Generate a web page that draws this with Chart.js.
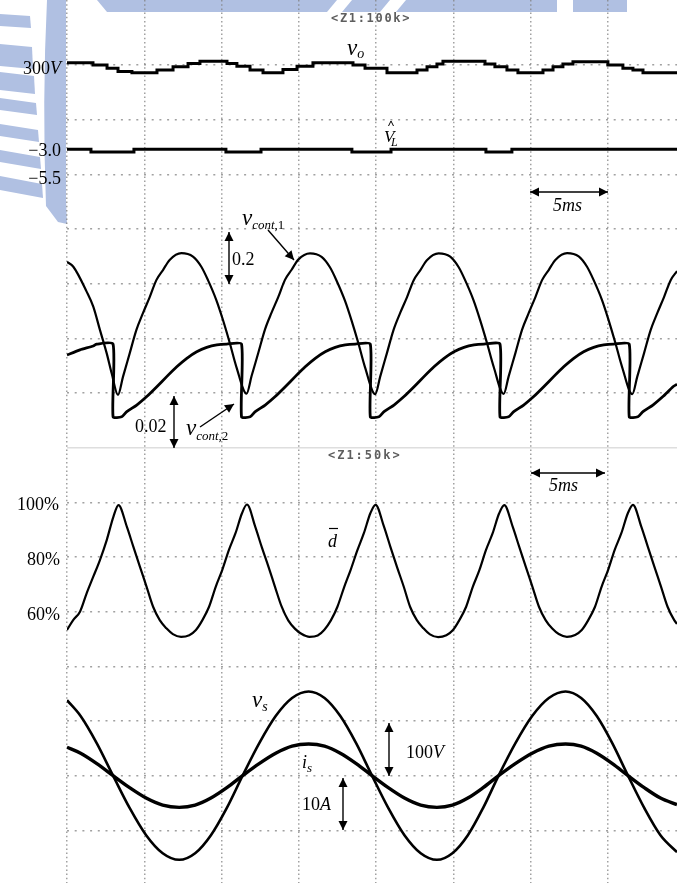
<!DOCTYPE html>
<html>
<head>
<meta charset="utf-8">
<script src="https://cdn.jsdelivr.net/npm/chart.js@4.4.1/dist/chart.umd.min.js"></script>
<style>
  html, body { margin: 0; padding: 0; background: #fff; overflow: hidden; }
  canvas { display: block; }
</style>
</head>
<body>
<canvas id="scope" width="677" height="883"></canvas>
<script>
// ---- time base: 5 ms per division, 0 ms = left edge of the screen ----
const timeMax = 39.46;
const timeTicks = [0, 5, 10, 15, 20, 25, 30, 35];
// screen rows (divisions), 0 = top of the upper screen, 16 = bottom of the lower one
const gridRows = [0, 1, 2, 3, 4, 5, 6, 7, 8, 9, 10, 11, 12, 13, 14, 15];
const rowTop = -0.19;
const rowBottom = 15.964;

// v_o (V), staircase
const voTime = [0, 1.68, 2.59, 3.30, 4.20, 5.82, 6.86, 7.83, 8.60, 10.35, 10.99, 11.84, 12.68, 13.97, 14.88, 15.91,
  18.50, 19.28, 20.70, 22.64, 23.29, 23.93, 24.32, 27.04, 27.68, 28.46, 29.17, 30.79, 31.44, 32.08, 32.73,
  34.99, 35.96, 36.61, 37.26, 39.46];
const voValues = [300.4, 300.0, 299.4, 298.8, 298.6, 299.1, 299.7, 300.3, 300.7, 300.3, 299.8, 299.1, 298.6, 299.2, 299.8, 300.4,
  300.0, 299.4, 298.6, 299.1, 299.7, 300.2, 300.7, 300.2, 299.7, 299.1, 298.6, 299.1, 299.7, 300.2, 300.6,
  300.0, 299.4, 299.1, 298.6, 298.6];

// V_L hat, staircase
const vlTime = [0, 1.55, 4.33, 10.28, 12.55, 18.43, 20.96, 27.10, 28.78, 39.46];
const vlValues = [-3.2, -3.45, -3.2, -3.45, -3.2, -3.45, -3.2, -3.45, -3.2, -3.2];

// v_cont,1
const vc1Time = [0, 0.41, 1.27, 1.70, 2.13, 2.57, 2.89,
  3.30, 3.62, 4.06, 4.49, 4.92, 5.35, 5.78, 6.21, 6.64, 7.40, 8.15, 8.69, 9.12, 9.66, 10.09, 10.53, 10.96,
  11.62, 11.94, 12.38, 12.81, 13.24, 13.67, 14.10, 14.53, 14.96, 15.72, 16.47, 17.01, 17.44, 17.98, 18.41, 18.85, 19.28,
  19.94, 20.26, 20.70, 21.13, 21.56, 21.99, 22.42, 22.85, 23.28, 24.04, 24.79, 25.33, 25.76, 26.30, 26.73, 27.17, 27.60,
  28.25, 28.57, 29.01, 29.44, 29.87, 30.30, 30.73, 31.16, 31.59, 32.35, 33.10, 33.64, 34.07, 34.61, 35.04, 35.48, 35.91,
  36.57, 36.89, 37.33, 37.76, 38.19, 38.62, 39.05, 39.46];
const vc1Values = [0.480, 0.462, 0.371, 0.316, 0.231, 0.145, 0.072,
  -0.007, 0.059, 0.146, 0.231, 0.293, 0.351, 0.413, 0.450, 0.487, 0.512, 0.499, 0.462, 0.413, 0.340, 0.267, 0.183, 0.095,
  -0.002, 0.062, 0.148, 0.233, 0.295, 0.352, 0.414, 0.451, 0.488, 0.511, 0.498, 0.460, 0.411, 0.338, 0.265, 0.182, 0.094,
  -0.004, 0.060, 0.147, 0.232, 0.294, 0.350, 0.412, 0.449, 0.486, 0.511, 0.499, 0.461, 0.412, 0.339, 0.266, 0.183, 0.096,
  -0.003, 0.061, 0.147, 0.232, 0.293, 0.351, 0.413, 0.450, 0.487, 0.512, 0.500, 0.462, 0.413, 0.340, 0.266, 0.182, 0.095,
  -0.004, 0.060, 0.146, 0.231, 0.293, 0.351, 0.413, 0.446];

// v_cont,2 (vertical resets at the drop instants)
const vc2Time = [0, 0.84, 1.70, 1.92, 2.98,
  2.98, 3.54, 3.87, 4.51, 5.16, 5.81, 6.45, 7.10, 7.75, 8.39, 9.04, 9.69, 10.33, 11.29,
  11.29, 11.85, 12.18, 12.82, 13.47, 14.12, 14.76, 15.41, 16.06, 16.70, 17.35, 18.00, 18.64, 19.62,
  19.62, 20.18, 20.51, 21.15, 21.80, 22.45, 23.09, 23.74, 24.39, 25.03, 25.68, 26.33, 26.97, 28.01,
  28.01, 28.57, 28.90, 29.54, 30.19, 30.84, 31.48, 32.13, 32.78, 33.42, 34.07, 34.72, 35.36, 36.37,
  36.37, 36.93, 37.26, 37.90, 38.55, 39.20, 39.46];
const vc2Values = [0.0339, 0.0358, 0.0372, 0.0379, 0.0379,
  0.0113, 0.0113, 0.0132, 0.0156, 0.0187, 0.0223, 0.0260, 0.0296, 0.0327, 0.0351, 0.0367, 0.0376, 0.0379, 0.0379,
  0.0113, 0.0113, 0.0132, 0.0156, 0.0187, 0.0223, 0.0260, 0.0296, 0.0327, 0.0351, 0.0367, 0.0376, 0.0379, 0.0379,
  0.0113, 0.0113, 0.0132, 0.0156, 0.0187, 0.0223, 0.0260, 0.0296, 0.0327, 0.0351, 0.0367, 0.0376, 0.0379, 0.0379,
  0.0113, 0.0113, 0.0132, 0.0156, 0.0187, 0.0223, 0.0260, 0.0296, 0.0327, 0.0351, 0.0367, 0.0376, 0.0379, 0.0379,
  0.0113, 0.0113, 0.0132, 0.0156, 0.0187, 0.0223, 0.0232];

// duty ratio d-bar (%)
const dutyTime = [0, 0.41, 0.84, 1.27, 1.70, 2.13, 2.57, 3.00,
  3.33, 3.87, 4.29, 4.72, 5.15, 5.57, 6.00, 6.43, 6.85, 7.38, 7.91, 8.34, 8.76, 9.19, 9.62, 10.04, 10.47, 10.90, 11.32,
  11.64, 12.18, 12.60, 13.03, 13.46, 13.88, 14.31, 14.74, 15.16, 15.69, 16.22, 16.65, 17.07, 17.50, 17.93, 18.35, 18.78, 19.21, 19.63,
  19.96, 20.50, 20.92, 21.35, 21.78, 22.20, 22.63, 23.06, 23.48, 24.01, 24.54, 24.97, 25.39, 25.82, 26.25, 26.67, 27.10, 27.53, 27.95,
  28.29, 28.83, 29.25, 29.68, 30.11, 30.53, 30.96, 31.39, 31.81, 32.34, 32.87, 33.30, 33.72, 34.15, 34.58, 35.00, 35.43, 35.86, 36.28,
  36.61, 37.15, 37.57, 38.00, 38.43, 38.85, 39.28, 39.46];
const dutyValues = [53.3, 57.0, 60.0, 66.7, 72.8, 78.9, 86.2, 94.7,
  99.0, 91.1, 83.8, 76.4, 69.1, 61.8, 56.9, 53.9, 51.8, 50.8, 51.4, 53.3, 56.9, 61.8, 69.1, 75.2, 82.5, 88.7, 96.0,
  99.2, 91.0, 83.6, 76.5, 69.0, 61.9, 56.8, 53.8, 51.9, 50.8, 51.3, 53.4, 56.8, 61.9, 69.0, 75.3, 82.4, 88.8, 96.1,
  99.1, 91.2, 83.7, 76.3, 69.2, 61.7, 56.9, 53.9, 51.7, 50.7, 51.4, 53.3, 57.0, 61.8, 69.1, 75.1, 82.5, 88.6, 95.9,
  99.0, 91.1, 83.8, 76.4, 69.1, 61.8, 56.9, 53.8, 51.8, 50.8, 51.5, 53.3, 56.9, 61.7, 69.1, 75.2, 82.6, 88.7, 96.0,
  99.1, 91.1, 83.8, 76.4, 69.1, 61.8, 56.9, 55.5];

// line voltage v_s (V) and line current i_s (A)
const acTime = [0, 0.88, 1.93, 2.98, 4.05, 5.12, 6.19, 7.26, 8.29, 9.31, 10.34, 11.36, 12.43, 13.50, 14.56, 15.63,
  16.66, 17.68, 18.71, 19.73, 20.78, 21.83, 22.88, 23.93, 24.93, 25.93, 26.92, 27.92, 29.00, 30.09, 31.17, 32.25,
  33.26, 34.27, 35.28, 36.29, 37.34, 38.39, 39.46];
const vsValues = [138, 109, 59, 0, -59, -109, -142, -154, -142, -109, -59, 0, 59, 109, 142, 154,
  142, 109, 59, 0, -59, -109, -142, -154, -142, -109, -59, 0, 59, 109, 142, 154,
  142, 109, 59, 0, -59, -109, -140];
const isValues = [5.2, 4.1, 2.2, 0, -2.2, -4.1, -5.4, -5.8, -5.4, -4.1, -2.2, 0, 2.2, 4.1, 5.4, 5.8,
  5.4, 4.1, 2.2, 0, -2.2, -4.1, -5.4, -5.8, -5.4, -4.1, -2.2, 0, 2.2, 4.1, 5.4, 5.8,
  5.4, 4.1, 2.2, 0, -2.2, -4.1, -5.3];

// pair up x and y arrays
function pts(xs, ys) {
  return xs.map((x, i) => ({ x: x, y: ys[i] }));
}

// hidden value axis for one trace: "ref" sits on screen row "row", "perDiv" units per division
function traceAxis(ref, row, perDiv) {
  return {
    type: 'linear',
    display: false,
    min: ref - (rowBottom - row) * perDiv,
    max: ref + (row - rowTop) * perDiv
  };
}

function trace(data, axis, width, extra) {
  return Object.assign({
    data: data,
    yAxisID: axis,
    borderColor: '#000',
    borderWidth: width,
    pointRadius: 0,
    fill: false,
    cubicInterpolationMode: 'monotone'
  }, extra || {});
}

const serif = '"Liberation Serif", "Times New Roman", serif';

function textRuns(ctx, x, y, parts, align) {
  let w = 0;
  parts.forEach(p => { ctx.font = p[1]; w += ctx.measureText(p[0]).width; });
  let cx = align === 'right' ? x - w : x;
  parts.forEach(p => {
    ctx.font = p[1];
    ctx.fillText(p[0], cx, y + (p[2] || 0));
    cx += ctx.measureText(p[0]).width;
  });
}

function head(ctx, x1, y1, x2, y2) {
  const a = Math.atan2(y2 - y1, x2 - x1);
  const len = 9, half = 4.5;
  ctx.beginPath();
  ctx.moveTo(x2, y2);
  ctx.lineTo(x2 - len * Math.cos(a) + half * Math.sin(a), y2 - len * Math.sin(a) - half * Math.cos(a));
  ctx.lineTo(x2 - len * Math.cos(a) - half * Math.sin(a), y2 - len * Math.sin(a) + half * Math.cos(a));
  ctx.closePath();
  ctx.fill();
}

function arrow(ctx, x1, y1, x2, y2, both) {
  ctx.beginPath();
  ctx.moveTo(x1, y1);
  ctx.lineTo(x2, y2);
  ctx.stroke();
  head(ctx, x1, y1, x2, y2);
  if (both) head(ctx, x2, y2, x1, y1);
}

// light blue watermark behind the screens
const watermark = {
  id: 'watermark',
  beforeDraw(chart) {
    const ctx = chart.ctx;
    ctx.save();
    ctx.fillStyle = '#b0c0e2';
    // top band
    ctx.beginPath();
    ctx.moveTo(97, 0); ctx.lineTo(627, 0); ctx.lineTo(627, 12); ctx.lineTo(107, 12); ctx.closePath();
    ctx.fill();
    // outer ring segment, almost vertical at the left, with a pointed foot
    ctx.beginPath();
    ctx.moveTo(47, 0); ctx.lineTo(66, 0); ctx.lineTo(66, 200); ctx.lineTo(67, 224);
    ctx.lineTo(58, 222); ctx.lineTo(46, 206);
    ctx.quadraticCurveTo(42, 100, 47, 0);
    ctx.closePath();
    ctx.fill();
    // rays
    [[14, 26], [44, 66], [72, 90], [98, 110], [124, 136], [150, 162], [176, 190]].forEach((r, i) => {
      ctx.beginPath();
      ctx.moveTo(0, r[0]); ctx.lineTo(30 + i * 2, r[0] + 2 + i); ctx.lineTo(31 + i * 2, r[1] + 2 + i); ctx.lineTo(0, r[1]);
      ctx.closePath();
      ctx.fill();
    });
    // white gaps in the top band
    ctx.fillStyle = '#fff';
    [[337, 352], [390, 406]].forEach(g => {
      ctx.beginPath();
      ctx.moveTo(g[0], 0); ctx.lineTo(g[1], 0); ctx.lineTo(g[1] - 10, 12); ctx.lineTo(g[0] - 10, 12); ctx.closePath();
      ctx.fill();
    });
    ctx.fillRect(557, 0, 16, 12);
    ctx.restore();
  }
};

// labels, scale arrows and the scope banners
const labels = {
  id: 'labels',
  afterDatasetsDraw(chart) {
    const ctx = chart.ctx;
    ctx.save();
    ctx.fillStyle = '#000';
    ctx.strokeStyle = '#000';
    ctx.lineWidth = 1.4;
    ctx.textBaseline = 'alphabetic';
    const up = '18px ' + serif, it = 'italic 18px ' + serif;
    const bigV = 'italic 23px ' + serif, sub = 'italic 13px ' + serif, subUp = '13px ' + serif;

    // left scale labels
    textRuns(ctx, 61, 74, [['300', up], ['V', it]], 'right');
    textRuns(ctx, 61, 156, [['\u22123.0', up]], 'right');
    textRuns(ctx, 61, 184, [['\u22125.5', up]], 'right');
    textRuns(ctx, 59, 510, [['100%', up]], 'right');
    textRuns(ctx, 60, 565, [['80%', up]], 'right');
    textRuns(ctx, 60, 620, [['60%', up]], 'right');

    // trace names
    textRuns(ctx, 347, 55, [['v', bigV], ['o', 'italic 14px ' + serif, 3]]);
    textRuns(ctx, 384, 142, [['V', 'italic 17px ' + serif]]);
    textRuns(ctx, 391, 146, [['L', 'italic 12px ' + serif]]);
    ctx.beginPath(); ctx.lineWidth = 1; ctx.moveTo(388.5, 126); ctx.lineTo(391, 121); ctx.lineTo(393.5, 126); ctx.stroke();
    ctx.lineWidth = 1.4;
    textRuns(ctx, 242, 225, [['v', bigV], ['cont', sub, 4], [',1', subUp, 4]]);
    arrow(ctx, 268, 230, 294, 260, false);
    textRuns(ctx, 186, 435, [['v', bigV], ['cont', sub, 5], [',2', subUp, 5]]);
    arrow(ctx, 200, 427, 234, 404, false);
    textRuns(ctx, 328, 547, [['d', it]]);
    ctx.beginPath(); ctx.lineWidth = 1.2; ctx.moveTo(329, 528.5); ctx.lineTo(338, 528.5); ctx.stroke();
    ctx.lineWidth = 1.4;
    textRuns(ctx, 252, 707, [['v', bigV], ['s', 'italic 14px ' + serif, 4]]);
    textRuns(ctx, 302, 768, [['i', it], ['s', sub, 4]]);

    // per-division markers
    arrow(ctx, 229, 232, 229, 284, true);
    textRuns(ctx, 232, 265, [['0.2', up]]);
    arrow(ctx, 174, 396, 174, 448, true);
    textRuns(ctx, 135, 432, [['0.02', up]]);
    arrow(ctx, 389, 723, 389, 776, true);
    textRuns(ctx, 406, 758, [['100', up], ['V', it]]);
    arrow(ctx, 343, 778, 343, 830, true);
    textRuns(ctx, 302, 810, [['10', up], ['A', it]]);
    arrow(ctx, 530, 192, 608, 192, true);
    textRuns(ctx, 553, 211, [['5ms', it]]);
    arrow(ctx, 531, 473, 605, 473, true);
    textRuns(ctx, 549, 491, [['5ms', it]]);

    // scope zoom banners
    ctx.fillStyle = '#5e5e5e';
    ctx.font = 'bold 12px "DejaVu Sans Mono", monospace';
    '<Z1:100k>'.split('').forEach((c, i) => ctx.fillText(c, 331 + i * 8.9, 21.5));
    '<Z1:50k>'.split('').forEach((c, i) => ctx.fillText(c, 328 + i * 9.2, 458.5));
    ctx.restore();
  }
};

const gridColor = 'rgba(130,130,130,0.75)';

new Chart(document.getElementById('scope'), {
  type: 'line',
  data: {
    datasets: [
      trace(pts(voTime, voValues), 'vo', 3, { stepped: true }),
      trace(pts(vlTime, vlValues), 'vl', 3, { stepped: true }),
      trace(pts(vc1Time, vc1Values), 'vc1', 2.2),
      trace(pts(vc2Time, vc2Values), 'vc2', 2.8, { cubicInterpolationMode: 'default', tension: 0.2 }),
      trace(pts(dutyTime, dutyValues), 'duty', 2.2),
      trace(pts(acTime, vsValues), 'vs', 2.6),
      trace(pts(acTime, isValues), 'is', 3.4)
    ]
  },
  options: {
    responsive: false,
    animation: false,
    events: [],
    layout: { padding: { left: 67, right: 0, top: 0, bottom: 0 } },
    plugins: { legend: { display: false }, tooltip: { enabled: false } },
    scales: {
      x: {
        type: 'linear',
        min: 0,
        max: timeMax,
        afterBuildTicks: axis => { axis.ticks = timeTicks.map(v => ({ value: v })); },
        ticks: { display: false },
        grid: { color: gridColor, lineWidth: 1.5, drawTicks: false },
        border: { display: false, dash: [1.5, 2.7] }
      },
      grid: {
        type: 'linear',
        position: 'left',
        reverse: true,
        min: rowTop,
        max: rowBottom,
        afterBuildTicks: axis => { axis.ticks = gridRows.map(v => ({ value: v })); },
        ticks: { display: false },
        grid: {
          lineWidth: 1.5,
          drawTicks: false,
          color: c => c.tick.value === 0 ? 'rgba(0,0,0,0)' : (c.tick.value === 8 ? '#dedede' : gridColor)
        },
        border: { display: false, dash: c => c.tick && c.tick.value === 8 ? [] : [2, 5.7] }
      },
      vo: traceAxis(300, 1, 10),
      vl: traceAxis(-5.5, 3, 5),
      vc1: traceAxis(0, 7, 0.2),
      vc2: traceAxis(0, 8, 0.02),
      duty: traceAxis(100, 9, 20),
      vs: traceAxis(0, 14, 100),
      is: traceAxis(0, 14, 10)
    }
  },
  plugins: [watermark, labels]
});
</script>
</body>
</html>
